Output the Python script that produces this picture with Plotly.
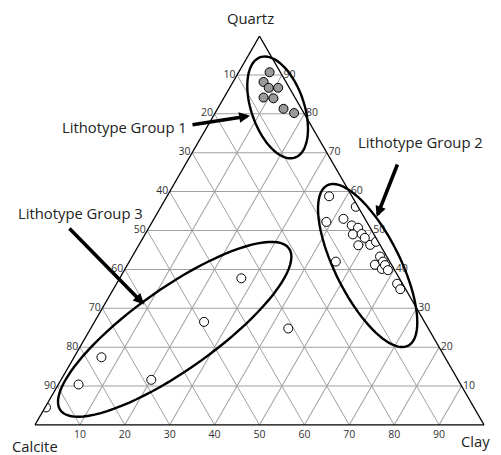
import numpy as np
import plotly.graph_objects as go

# -----------------------------------------
# Data (percent)
# -----------------------------------------
g1_quartz = [90.7, 88.2, 86.7, 86.7, 84.2, 84.0, 81.3, 80.2]
g1_calcite = [2.4, 5.0, 4.6, 2.5, 7.0, 4.9, 4.0, 2.2]
g1_clay = [6.9, 6.8, 8.7, 10.8, 8.8, 11.1, 14.7, 17.6]

g2_quartz = [58.8, 56.1, 52.2, 53.0, 51.3, 50.7, 49.0, 49.1, 48.1, 46.2, 46.3,
             47.1, 42.0, 41.2, 40.1, 43.3, 42.0, 41.1, 39.8, 36.3, 34.9]
g2_calcite = [5.1, 0.5, 9.0, 4.8, 3.8, 2.7, 4.7, 2.7, 2.5, 4.9, 2.2,
              0.5, 12.0, 3.7, 2.7, 1.5, 1.5, 1.5, 1.5, 1.2, 1.2]
g2_clay = [36.1, 43.4, 38.8, 42.2, 44.9, 46.6, 46.3, 48.2, 49.4, 48.9, 51.5,
           52.4, 46.0, 55.1, 57.2, 55.2, 56.5, 57.4, 58.7, 62.5, 63.9]

g3_quartz = [4.5, 10.4, 17.4, 11.6, 26.5, 37.7, 24.8]
g3_calcite = [95.3, 85.1, 76.5, 68.3, 49.1, 35.2, 31.2]
g3_clay = [0.2, 4.5, 6.1, 20.1, 24.4, 27.1, 44.0]

tick_vals = [10, 20, 30, 40, 50, 60, 70, 80, 90]
tick_text = ["90", "80", "70", "60", "50", "40", "30", "20", "10"]

# the page body adds an 8px offset, so margins are 8px smaller
W, H = 501, 455
OFF = 8
ML, MT = 27, 28
PW, PH = 449, 389
MR, MB = W - ML - PW, H - MT - PH

# corners of the triangle in the reference picture (pixels)
A_REF = np.array([250.0, 32.0])   # Quartz
B_REF = np.array([40.0, 434.0])   # Calcite
C_REF = np.array([483.0, 428.0])  # Clay


def to_paper(px, py):
    # barycentric position in the reference, re-expressed on our triangle
    M = np.array([[A_REF[0] - C_REF[0], B_REF[0] - C_REF[0]],
                  [A_REF[1] - C_REF[1], B_REF[1] - C_REF[1]]])
    a, b = np.linalg.solve(M, [px - C_REF[0], py - C_REF[1]])
    c = 1 - a - b
    return a * 0.5 + c * 1.0, a * 1.0


def page_to_paper(px, py):
    # plain page position -> paper coordinates
    return (px - OFF - ML) / PW, 1 - (py - OFF - MT) / PH


def ellipse_path(cx, cy, ra, rb, ang):
    t = np.linspace(0, 2 * np.pi, 90)
    phi = np.radians(ang)
    xs = cx + ra * np.cos(phi) * np.cos(t) - rb * np.sin(phi) * np.sin(t)
    ys = cy + ra * np.sin(phi) * np.cos(t) + rb * np.cos(phi) * np.sin(t)
    pts = [to_paper(x, y) for x, y in zip(xs, ys)]
    return "M " + " L ".join(f"{x:.4f},{y:.4f}" for x, y in pts) + " Z"


fig = go.Figure()

fig.add_trace(go.Scatterternary(
    a=g1_quartz, b=g1_calcite, c=g1_clay, mode="markers", name="Group 1",
    marker=dict(size=9, color="#9a9a9a", line=dict(color="black", width=1))
))
fig.add_trace(go.Scatterternary(
    a=g2_quartz, b=g2_calcite, c=g2_clay, mode="markers", name="Group 2",
    marker=dict(size=9, color="white", line=dict(color="black", width=1))
))
fig.add_trace(go.Scatterternary(
    a=g3_quartz, b=g3_calcite, c=g3_clay, mode="markers", name="Group 3",
    marker=dict(size=9, color="white", line=dict(color="black", width=1))
))

axis_style = dict(
    tickvals=tick_vals, ticktext=tick_text, ticks="",
    tickfont=dict(family="Open Sans", size=10.5, color="#333"),
    showgrid=True, gridcolor="#a0a0a0", gridwidth=0.8,
    showline=True, linecolor="black", linewidth=1.2,
    title=dict(text=""),
)

fig.update_layout(
    width=W, height=H,
    margin=dict(l=ML, r=MR, t=MT, b=MB, autoexpand=False),
    paper_bgcolor="white",
    showlegend=False,
    font=dict(family="Open Sans", color="#222"),
    ternary=dict(
        sum=100, bgcolor="white",
        aaxis=axis_style, baxis=axis_style, caxis=axis_style,
    ),
)

# ellipses around the groups
shapes = []
for cx, cy, ra, rb, ang in [(270, 105, 54.5, 26, 70.3),
                            (363.5, 266, 92, 32, 62.9),
                            (175, 334, 139, 41.6, -37.6)]:
    shapes.append(dict(type="path", xref="paper", yref="paper",
                       path=ellipse_path(cx, cy, ra, rb, ang),
                       line=dict(color="black", width=2.4)))
fig.update_layout(shapes=shapes)

# arrows: tail near the label, tip at the ellipse
for tail, tip in [((191, 125), (243, 114)),
                  ((398, 163), (371, 216)),
                  ((68, 227), (144, 309))]:
    tx, ty = to_paper(*tip)
    sx, sy = page_to_paper(*tail)
    fig.add_annotation(x=tx, y=ty, xref="paper", yref="paper", text="",
                       showarrow=True, arrowhead=2, arrowsize=0.6,
                       arrowwidth=3.6, arrowcolor="black",
                       ax=(sx - tx) * PW, ay=-(sy - ty) * PH)

# labels
for text, (px, py), anchor in [("Lithotype Group 1", (189, 127), "right"),
                               ("Lithotype Group 2", (356, 142), "left"),
                               ("Lithotype Group 3", (16, 213), "left"),
                               ("Quartz", (250, 18), "center"),
                               ("Calcite", (35, 446), "center"),
                               ("Clay", (492, 441), "right")]:
    x, y = page_to_paper(px, py)
    fig.add_annotation(x=x, y=y, xref="paper", yref="paper", text=text,
                       showarrow=False, xanchor=anchor, yanchor="middle",
                       font=dict(size=14.8, color="#222"))

fig.write_html("out.html")
